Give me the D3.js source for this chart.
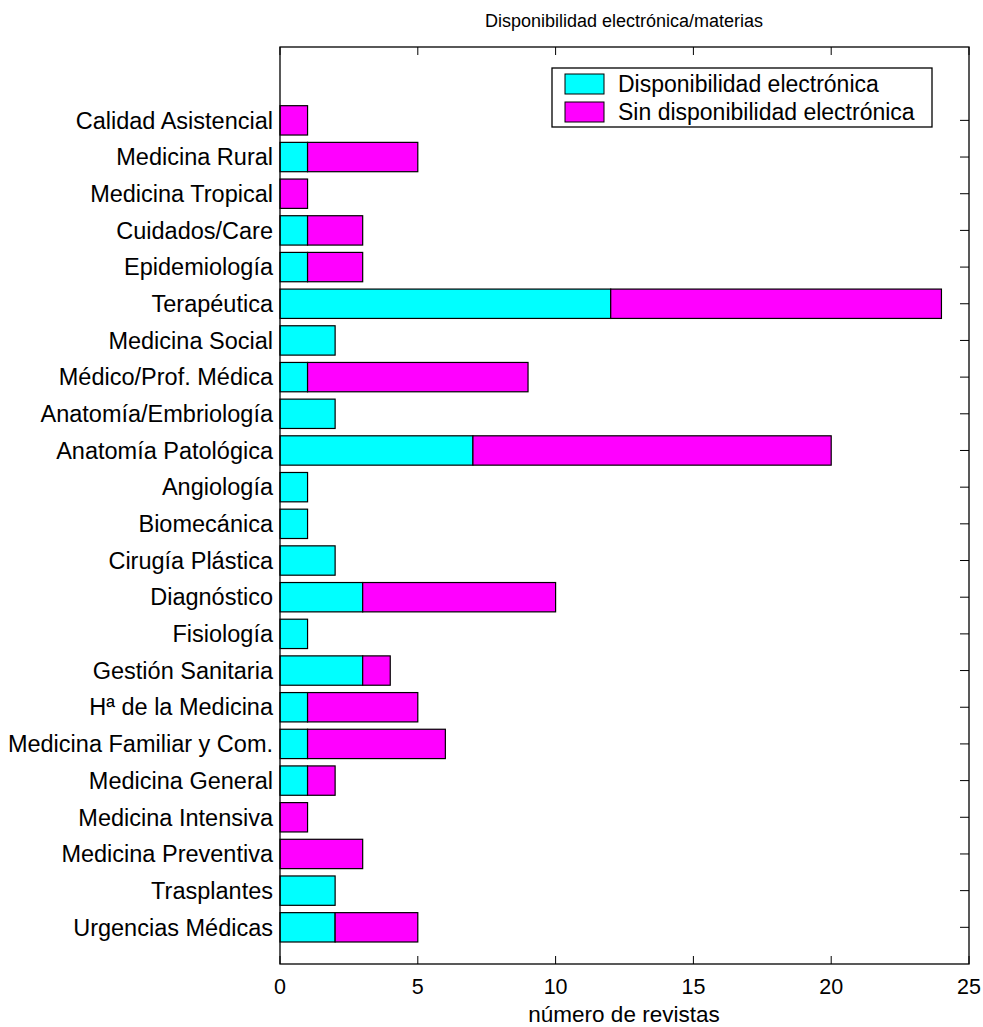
<!DOCTYPE html>
<html><head><meta charset="utf-8">
<script src="https://cdn.jsdelivr.net/npm/d3@7"></script>
<style>body{margin:0;background:#fff;} text{font-family:"Liberation Sans",Arial,sans-serif;fill:#000;}</style>
</head><body>
<svg id="c" width="983" height="1027"></svg>
<script>
const categories = ["Calidad Asistencial","Medicina Rural","Medicina Tropical","Cuidados/Care","Epidemiología","Terapéutica","Medicina Social","Médico/Prof. Médica","Anatomía/Embriología","Anatomía Patológica","Angiología","Biomecánica","Cirugía Plástica","Diagnóstico","Fisiología","Gestión Sanitaria","Hª de la Medicina","Medicina Familiar y Com.","Medicina General","Medicina Intensiva","Medicina Preventiva","Trasplantes","Urgencias Médicas"];
const electronica = [0,1,0,1,1,12,2,1,2,7,1,1,2,3,1,3,1,1,1,0,0,2,2];
const sinElectronica = [1,4,1,2,2,12,0,8,0,13,0,0,0,7,0,1,4,5,1,1,3,0,3];
const xTicks = [0,5,10,15,20,25];
const seriesNames = ["Disponibilidad electrónica","Sin disponibilidad electrónica"];
const colors = ["#00ffff","#ff00ff"];

const svg = d3.select("#c");
const L=280, R=969, T=47, B=964;
const x = d3.scaleLinear().domain([0,25]).range([L,R]);
const n = categories.length;
const y = d3.scaleLinear().domain([0,25]).range([B,T]);
const pos = i => n - i;
const bh = (y(0)-y(0.8));

const g = svg.append("g");
categories.forEach((c,i)=>{
  const yc = y(pos(i));
  const e = electronica[i], s = sinElectronica[i];
  if(e>0) g.append("rect").attr("x",x(0)).attr("y",yc-bh/2).attr("width",x(e)-x(0)).attr("height",bh)
    .attr("fill",colors[0]).attr("stroke","#000").attr("stroke-width",1.2);
  if(s>0) g.append("rect").attr("x",x(e)).attr("y",yc-bh/2).attr("width",x(e+s)-x(e)).attr("height",bh)
    .attr("fill",colors[1]).attr("stroke","#000").attr("stroke-width",1.2);
});

svg.append("rect").attr("x",L).attr("y",T).attr("width",R-L).attr("height",B-T)
  .attr("fill","none").attr("stroke","#000").attr("stroke-width",1.3);

xTicks.forEach(t=>{
  svg.append("line").attr("x1",x(t)).attr("x2",x(t)).attr("y1",B).attr("y2",B-8).attr("stroke","#000");
  svg.append("line").attr("x1",x(t)).attr("x2",x(t)).attr("y1",T).attr("y2",T+8).attr("stroke","#000");
  svg.append("text").attr("x",x(t)).attr("y",994).attr("text-anchor","middle").attr("font-size",21.5).text(t);
});
categories.forEach((c,i)=>{
  const yc = y(pos(i));
  svg.append("line").attr("x1",R).attr("x2",R-9).attr("y1",yc).attr("y2",yc).attr("stroke","#000");
  svg.append("text").attr("x",L-7).attr("y",yc).attr("dy","0.35em").attr("text-anchor","end").attr("font-size",23.5).text(c);
});

svg.append("text").attr("x",624).attr("y",27).attr("text-anchor","middle").attr("font-size",18).text("Disponibilidad electrónica/materias");
svg.append("text").attr("x",624).attr("y",1022).attr("text-anchor","middle").attr("font-size",22.5).text("número de revistas");

const lg = svg.append("g");
lg.append("rect").attr("x",552).attr("y",68).attr("width",380).attr("height",59).attr("fill","#fff").attr("stroke","#000").attr("stroke-width",1.3);
seriesNames.forEach((s,i)=>{
  const yy = 74 + i*28;
  lg.append("rect").attr("x",565).attr("y",yy).attr("width",39).attr("height",20).attr("fill",colors[i]).attr("stroke","#000");
  lg.append("text").attr("x",618).attr("y",yy+10).attr("dy","0.35em").attr("font-size",23).text(s);
});
</script>
</body></html>
